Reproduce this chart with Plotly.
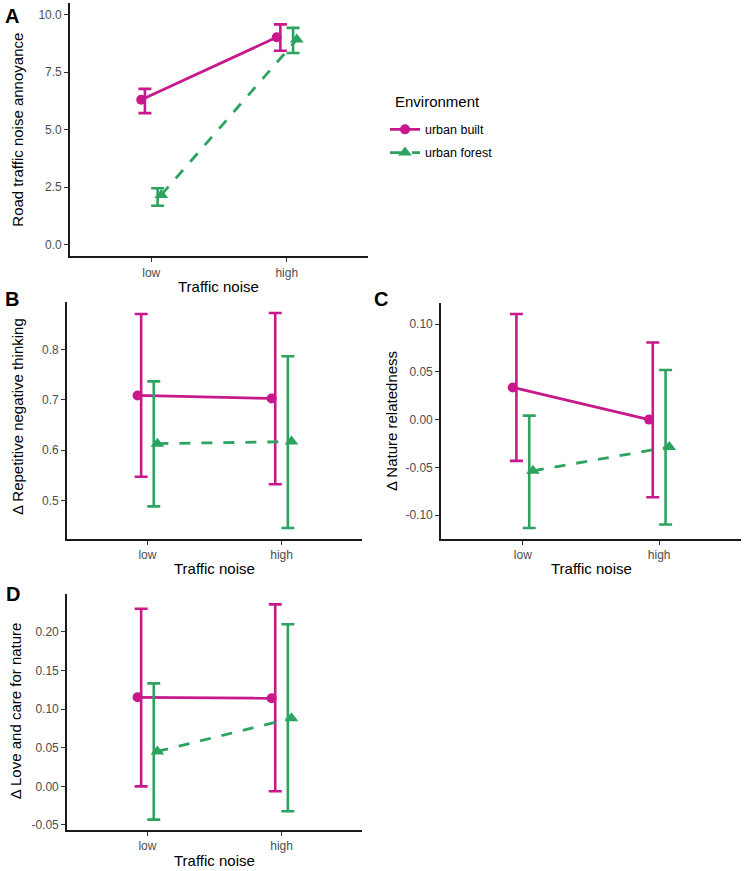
import plotly.graph_objects as go

# ---------------- data ----------------
noise_levels = ["low", "high"]
environments = ["urban built", "urban forest"]

# Panel A: Road traffic noise annoyance
a_built = [6.30, 9.01]
a_built_lo = [5.72, 8.43]
a_built_hi = [6.77, 9.57]
a_forest = [2.17, 8.91]
a_forest_lo = [1.70, 8.33]
a_forest_hi = [2.46, 9.42]

# Panel B: Δ Repetitive negative thinking
b_built = [0.709, 0.703]
b_built_lo = [0.547, 0.532]
b_built_hi = [0.871, 0.873]
b_forest = [0.613, 0.617]
b_forest_lo = [0.488, 0.445]
b_forest_hi = [0.737, 0.787]

# Panel C: Δ Nature relatedness
c_built = [0.0337, 0.0000]
c_built_lo = [-0.0433, -0.0814]
c_built_hi = [0.1107, 0.0808]
c_forest = [-0.0537, -0.0287]
c_forest_lo = [-0.1137, -0.1100]
c_forest_hi = [0.0042, 0.0520]

# Panel D: Δ Love and care for nature
d_built = [0.1152, 0.1140]
d_built_lo = [0.0000, -0.0064]
d_built_hi = [0.2299, 0.2355]
d_forest = [0.0452, 0.0880]
d_forest_lo = [-0.0430, -0.0322]
d_forest_hi = [0.1332, 0.2097]

a_ticks = [0.0, 2.5, 5.0, 7.5, 10.0]
a_ticktext = ["0.0", "2.5", "5.0", "7.5", "10.0"]
b_ticks = [0.5, 0.6, 0.7, 0.8]
b_ticktext = ["0.5", "0.6", "0.7", "0.8"]
c_ticks = [-0.10, -0.05, 0.0, 0.05, 0.10]
c_ticktext = ["-0.10", "-0.05", "0.00", "0.05", "0.10"]
d_ticks = [-0.05, 0.0, 0.05, 0.10, 0.15, 0.20]
d_ticktext = ["-0.05", "0.00", "0.05", "0.10", "0.15", "0.20"]

# ---------------- style ----------------
W, H = 746, 871
MAGENTA = "#C8198C"
GREEN = "#2CA35F"
FONT = "Liberation Sans, Arial, Helvetica, sans-serif"
PT_DODGE = 0.074
EB_DODGE = 0.047

base_x = [1, 2]


def px_x(p):
    return p / W


def px_y(p):
    return 1 - p / H


fig = go.Figure()

panels = [
    ("", a_built, a_built_lo, a_built_hi, a_forest, a_forest_lo, a_forest_hi, True),
    ("2", b_built, b_built_lo, b_built_hi, b_forest, b_forest_lo, b_forest_hi, False),
    ("3", c_built, c_built_lo, c_built_hi, c_forest, c_forest_lo, c_forest_hi, False),
    ("4", d_built, d_built_lo, d_built_hi, d_forest, d_forest_lo, d_forest_hi, False),
]

for suf, bm, blo, bhi, fm, flo, fhi, showleg in panels:
    xa = "x" + suf
    ya = "y" + suf
    for name, m, lo, hi, col, sign, sym, dash in [
        (environments[0], bm, blo, bhi, MAGENTA, -1, "circle", "solid"),
        (environments[1], fm, flo, fhi, GREEN, 1, "triangle-up", "11px,11px"),
    ]:
        # line + points
        fig.add_trace(go.Scatter(
            x=[v + sign * PT_DODGE for v in base_x], y=m,
            mode="lines+markers", name=name, legendgroup=name,
            showlegend=showleg,
            line=dict(color=col, width=2.8, dash=dash),
            marker=dict(color=col, size=10 if sym == "circle" else 12, symbol=sym),
            xaxis=xa, yaxis=ya, hoverinfo="skip",
        ))
        # error bars
        fig.add_trace(go.Scatter(
            x=[v + sign * EB_DODGE for v in base_x], y=m,
            mode="markers", showlegend=False, legendgroup=name,
            marker=dict(color=col, size=1, opacity=0),
            error_y=dict(type="data", symmetric=False,
                         array=[h - v for h, v in zip(hi, m)],
                         arrayminus=[v - l for v, l in zip(m, lo)],
                         color=col, thickness=2.6, width=6.5),
            xaxis=xa, yaxis=ya, hoverinfo="skip",
        ))

axis_common = dict(
    showline=True, linecolor="#1a1a1a", linewidth=1.6,
    ticks="outside", ticklen=4, tickwidth=1.4, tickcolor="#333333",
    tickfont=dict(family=FONT, size=12, color="#4D4D4D"),
    showgrid=False, zeroline=False,
)

xa_common = dict(axis_common, range=[0.4, 2.6], tickvals=base_x, ticktext=noise_levels)

# domains in pixels: (left, right, top, bottom)
dom = {
    "": (70, 368, 3, 257),
    "2": (67, 362, 303, 540),
    "3": (441, 741, 304, 540),
    "4": (67, 362, 595, 832),
}
yranges = {
    "": ([-0.5, 10.5], a_ticks, a_ticktext),
    "2": ([0.4236, 0.8944], b_ticks, b_ticktext),
    "3": ([-0.1249, 0.1219], c_ticks, c_ticktext),
    "4": ([-0.0566, 0.2494], d_ticks, d_ticktext),
}

layout = dict(
    width=W, height=H, autosize=False,
    margin=dict(l=0, r=0, t=0, b=0, pad=0),
    paper_bgcolor="white", plot_bgcolor="white",
    font=dict(family=FONT, color="black"),
    legend=dict(
        font=dict(family=FONT, size=12.5, color="black"),
        x=px_x(385), y=px_y(115), xanchor="left", yanchor="top",
        bgcolor="rgba(0,0,0,0)", itemwidth=30, tracegroupgap=4,
    ),
)

for suf, (l, r, t, b) in dom.items():
    yr, tv, tt = yranges[suf]
    layout["xaxis" + suf] = dict(xa_common, domain=[px_x(l), px_x(r)],
                                 anchor="y" + suf)
    layout["yaxis" + suf] = dict(axis_common, domain=[px_y(b), px_y(t)],
                                 range=yr, tickvals=tv, ticktext=tt,
                                 anchor="x" + suf)

fig.update_layout(**layout)

annotations = []
# legend title
annotations.append(dict(text="Environment", x=px_x(393), y=px_y(102),
                        xref="paper", yref="paper", showarrow=False,
                        xanchor="left", yanchor="middle",
                        font=dict(family=FONT, size=15, color="black")))
# panel letters
for letter, x, y in [("A", 12, 16), ("B", 12, 300), ("C", 381, 300), ("D", 13, 595)]:
    annotations.append(dict(text="<b>%s</b>" % letter, x=px_x(x), y=px_y(y),
                            xref="paper", yref="paper", showarrow=False,
                            xanchor="center", yanchor="middle",
                            font=dict(family=FONT, size=20, color="black")))
# x axis titles
for x, y in [((70 + 368) / 2, 287), ((67 + 362) / 2, 570), ((441 + 741) / 2, 570), ((67 + 362) / 2, 862)]:
    annotations.append(dict(text="Traffic noise", x=px_x(x), y=px_y(y),
                            xref="paper", yref="paper", showarrow=False,
                            xanchor="center", yanchor="middle",
                            font=dict(family=FONT, size=15, color="black")))
# y axis titles
for text, x, y in [("Road traffic noise annoyance", 18, 130),
                   ("Δ Repetitive negative thinking", 17, 418),
                   ("Δ Nature relatedness", 391, 422),
                   ("Δ Love and care for nature", 15, 713)]:
    annotations.append(dict(text=text, x=px_x(x), y=px_y(y), textangle=-90,
                            xref="paper", yref="paper", showarrow=False,
                            xanchor="center", yanchor="middle",
                            font=dict(family=FONT, size=15, color="black")))

fig.update_layout(annotations=annotations)

fig.write_html("out.html")
